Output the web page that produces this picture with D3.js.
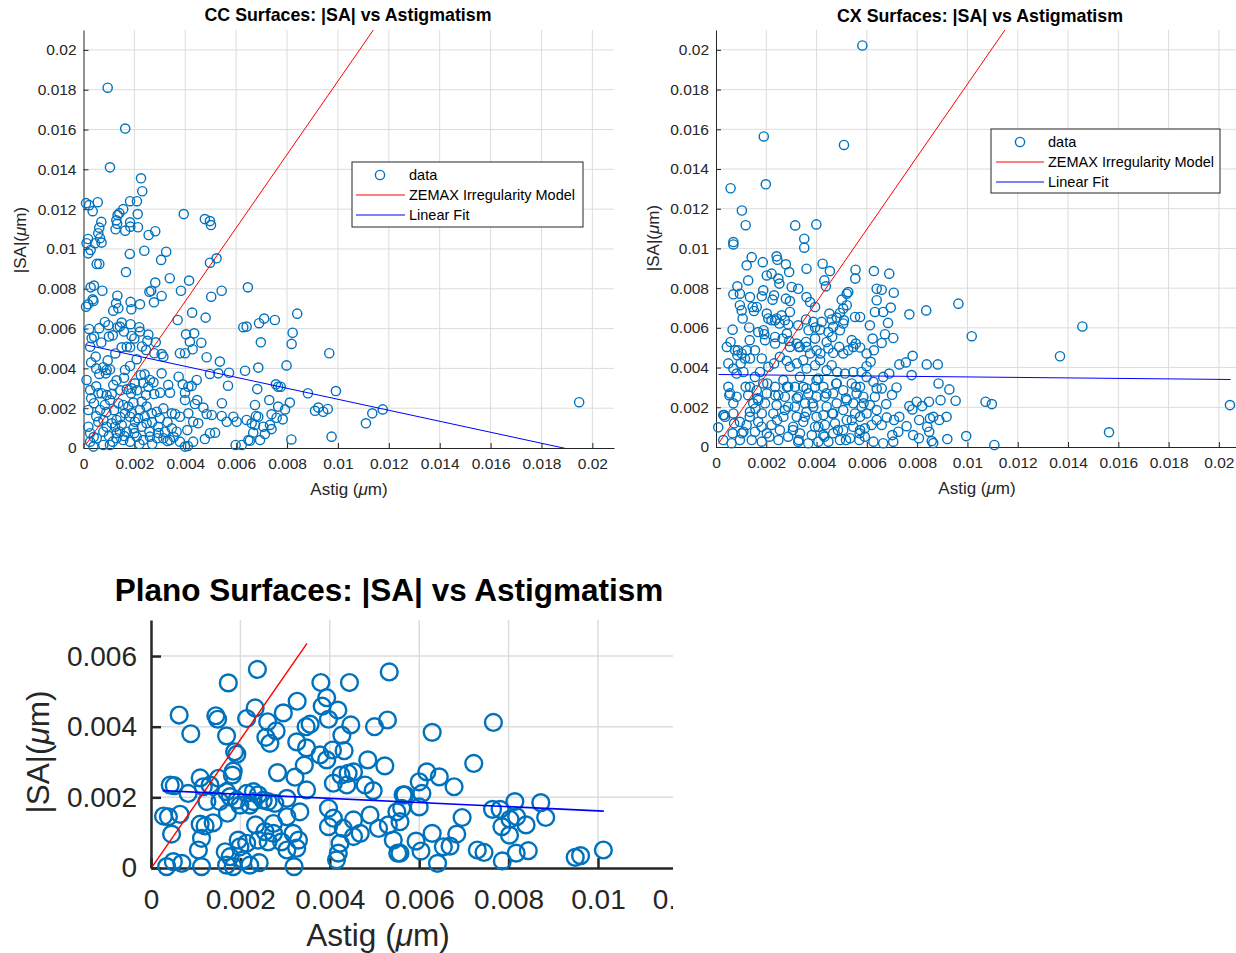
<!DOCTYPE html>
<html>
<head>
<meta charset="utf-8">
<script src="https://cdn.jsdelivr.net/npm/d3@7"></script>
<style>
  body { margin: 0; background: #fff; }
  svg { display: block; }
  text { font-family: "Liberation Sans", Arial, Helvetica, sans-serif; fill: #262626; }
</style>
</head>
<body>
<svg id="chart" width="1236" height="953"></svg>
<script>
// all values are in units of 1e-3 um: [astig, |SA|]
const ccPoints = [
  [0.95,18.1],[1.64,16.05],[1.04,14.1],[2.26,13.55],[2.31,12.9],[0.1,12.3],[0.22,12.2],[0.56,12.35],[0.36,11.9],[1.83,12.4],
  [2.1,12.4],[1.56,12.0],[1.41,11.8],[1.34,11.7],[2.13,11.75],[3.94,11.75],[0.7,11.36],[1.29,11.44],[1.32,11.26],[1.83,11.34],
  [0.62,11.07],[1.26,10.99],[1.64,10.92],[1.84,11.12],[2.14,11.09],[2.56,10.7],[2.82,10.89],[4.77,11.5],[4.97,11.4],[5.01,11.2],
  [0.18,10.5],[0.65,10.54],[0.58,10.79],[0.12,10.29],[0.45,10.29],[0.71,10.32],[0.28,9.95],[0.19,9.78],[1.82,9.75],[2.39,9.91],
  [3.25,9.86],[3.05,9.45],[0.52,9.25],[0.62,9.25],[1.67,8.84],[4.97,9.31],[5.23,9.53],[3.39,8.53],[4.15,8.41],[2.82,8.31],
  [2.59,7.85],[2.66,7.9],[3.07,7.64],[2.77,7.32],[3.83,7.9],[5.43,7.9],[5.02,7.6],[6.46,8.07],[0.41,8.16],[0.28,8.07],
  [0.74,7.9],[0.1,7.1],[0.39,7.39],[0.36,7.47],[0.18,7.22],[1.33,7.65],[1.28,7.27],[1.17,6.9],[1.85,7.34],[1.88,6.97],
  [2.22,7.22],[1.37,7.02],[0.22,5.98],[0.32,5.51],[0.42,5.59],[0.26,5.09],[0.48,4.59],[0.62,6.02],[0.84,6.33],[0.98,6.17],
  [1.15,5.66],[1.34,6.07],[1.5,6.3],[1.43,6.1],[1.59,5.85],[1.85,6.22],[1.89,5.63],[2.19,6.07],[2.22,5.85],[2.51,5.38],
  [2.84,5.31],[1.5,5.06],[1.7,5.09],[1.83,5.06],[2.46,4.92],[2.78,4.76],[3.07,4.72],[3.14,4.59],[2.09,4.46],[3.7,6.43],
  [4.03,5.71],[4.35,5.76],[4.27,6.8],[4.63,5.29],[4.18,5.34],[4.29,4.96],[3.79,4.76],[3.99,4.76],[4.8,6.55],[4.84,4.56],
  [5.36,4.34],[4.97,3.72],[5.3,3.75],[5.72,3.78],[6.35,3.88],[6.41,6.1],[6.28,6.07],[5.68,3.13],[5.44,2.25],[0.12,3.42],
  [0.26,2.91],[0.41,2.25],[0.62,3.72],[0.78,4.06],[0.91,3.92],[1.04,3.95],[0.88,3.75],[0.58,2.75],[0.71,2.75],[0.91,2.66],
  [1.11,2.71],[1.17,3.17],[1.59,3.53],[1.63,3.92],[1.83,4.12],[1.7,2.95],[1.89,3.0],[1.87,2.75],[2.02,3.25],[2.25,3.67],
  [2.35,3.28],[2.61,3.42],[2.55,3.08],[2.46,2.66],[2.78,2.71],[3.01,2.78],[3.07,3.75],[3.33,3.17],[3.4,2.78],[3.74,3.58],
  [3.9,3.2],[4.12,3.08],[3.99,2.78],[4.25,3.12],[4.45,3.42],[3.99,2.41],[4.38,2.21],[4.47,2.41],[4.71,2.03],[4.84,1.71],
  [5.04,1.66],[0.19,1.91],[0.65,1.91],[0.84,2.16],[1.04,2.41],[1.37,2.25],[1.56,2.16],[1.76,2.08],[1.63,1.74],[1.96,2.28],
  [2.29,2.33],[2.22,1.91],[2.48,2.08],[2.68,1.74],[2.88,1.82],[3.14,1.99],[3.47,1.74],[3.6,1.71],[3.79,1.57],[4.12,1.74],
  [4.31,1.32],[4.51,1.24],[4.97,0.74],[5.17,0.77],[4.77,0.45],[5.43,1.61],[5.63,1.32],[5.89,1.57],[6.02,1.32],[6.41,1.41],
  [6.48,0.4],[5.98,0.15],[6.22,0.15],[3.79,0.32],[3.99,0.07],[4.1,0.1],[4.31,0.32],[3.4,0.4],[3.14,0.49],[3.3,0.35],
  [2.9,0.49],[2.61,0.57],[2.35,0.4],[2.09,0.57],[1.83,0.32],[1.56,0.4],[1.3,0.49],[1.15,0.32],[1.04,0.15],[0.78,0.15],
  [0.39,0.07],[0.26,0.32],[0.52,0.49],[1.43,0.82],[1.7,0.82],[0.91,1.07],[1.11,1.24],[1.24,1.07],[1.5,1.16],[1.96,0.99],
  [2.29,1.07],[2.48,1.24],[2.59,0.82],[2.94,1.07],[3.2,0.82],[3.47,0.99],[3.66,0.82],[4.08,0.9],[0.19,1.07],[0.26,0.74],
  [0.78,0.82],[0.58,1.32],[0.78,1.41],[1.3,1.41],[1.83,1.57],[2.02,1.32],[8.4,6.75],[7.1,6.5],[6.9,6.27],[7.52,6.43],
  [8.22,5.79],[6.97,5.31],[8.18,5.23],[9.66,4.76],[6.87,4.04],[7.98,4.15],[6.83,2.96],[7.56,3.2],[7.65,3.08],[7.75,3.08],
  [8.82,2.75],[9.92,2.86],[7.3,2.41],[6.74,2.16],[7.65,2.08],[8.11,2.28],[7.92,1.94],[6.78,1.61],[6.87,1.57],[7.39,1.69],
  [7.59,1.52],[7.83,1.44],[6.61,1.24],[6.74,1.16],[7.07,1.07],[7.33,1.16],[7.39,0.95],[7.13,0.7],[6.67,0.77],[6.54,0.37],
  [6.94,0.4],[8.17,0.43],[9.75,0.57],[9.1,1.87],[9.23,2.03],[9.42,1.82],[9.6,1.96],[11.1,1.24],[11.35,1.74],[11.76,1.94],
  [19.48,2.3],
  [0.5,1.6],[0.9,1.8],[1.2,1.9],[1.45,1.55],[1.9,1.75],[2.15,1.5],[2.4,1.6],[2.7,1.3],[3.0,1.5],[3.3,1.3],
  [1.0,0.6],[1.3,0.75],[1.6,0.6],[2.0,0.75],[2.2,0.2],[2.7,0.2],[2.95,0.75],[3.55,0.55],[0.4,0.55],[0.3,2.5],
  [0.5,3.1],[1.3,3.4],[1.45,2.9],[2.1,2.9],[2.4,3.7],[2.75,3.3],[0.3,4.3],[0.5,4.0],[0.95,4.4],[1.25,4.75],
  [0.7,5.3],[1.0,5.6],[2.0,5.5],[2.3,5.1],[2.55,5.7]
];
const cxPoints = [
  [5.82,20.22],[1.9,15.64],[5.09,15.21],[0.58,13.03],[1.98,13.23],[1.03,11.91],[1.18,11.17],[3.15,11.16],[3.99,11.21],[3.51,10.49],
  [0.69,10.32],[0.69,10.2],[3.51,10.04],[1.22,9.15],[1.42,9.56],[1.86,9.31],[2.41,9.6],[2.44,9.43],[2.78,9.2],[2.91,8.81],
  [3.6,8.98],[4.24,9.23],[4.53,8.86],[5.55,8.93],[5.54,8.48],[6.28,8.86],[2.02,8.64],[2.21,8.73],[2.48,8.48],[2.52,8.23],
  [1.28,8.39],[0.85,8.09],[0.69,7.69],[0.95,7.72],[1.35,7.55],[1.88,7.89],[1.82,7.59],[2.31,7.64],[2.25,7.42],[2.78,7.47],
  [2.94,7.35],[3.01,8.06],[3.27,7.97],[4.31,8.39],[4.37,8.09],[3.6,7.55],[3.74,7.3],[3.94,7.05],[0.95,7.14],[1.02,6.88],
  [1.06,6.47],[1.46,7.05],[1.51,6.85],[1.62,7.05],[2.02,6.72],[2.08,6.47],[2.21,6.38],[2.41,6.47],[2.61,6.63],[2.74,6.38],
  [2.94,6.8],[2.87,6.17],[2.52,6.22],[3.27,6.13],[3.58,6.42],[3.87,6.3],[3.94,6.02],[4.2,6.3],[4.51,6.72],[4.6,6.42],
  [4.8,6.52],[4.93,6.75],[5.06,6.97],[5.2,7.72],[5.26,7.8],[5.0,7.42],[5.2,7.14],[5.53,6.55],[5.73,6.55],[6.12,6.13],
  [6.32,6.8],[6.39,7.39],[6.39,7.97],[4.14,5.91],[4.47,5.79],[4.66,6.05],[4.93,5.88],[5.06,6.22],[0.66,5.91],[1.32,6.02],
  [1.68,5.79],[1.95,5.38],[1.92,5.68],[2.35,5.21],[2.35,5.54],[2.65,5.46],[2.91,5.34],[2.94,5.04],[3.21,5.21],[3.34,5.04],
  [3.6,5.04],[3.58,5.29],[3.94,5.46],[3.74,4.71],[4.0,4.87],[4.4,5.29],[4.47,4.96],[4.66,4.74],[4.9,5.04],[5.06,4.71],
  [5.26,4.87],[5.4,5.38],[5.46,5.04],[5.73,5.01],[5.99,4.71],[6.23,5.46],[6.28,4.87],[0.43,5.04],[0.58,5.29],[0.76,4.87],
  [0.85,4.62],[1.02,4.71],[1.22,4.87],[1.35,4.46],[1.15,4.46],[0.49,4.21],[0.69,3.95],[0.98,4.21],[1.55,4.87],[1.82,4.46],
  [2.08,4.04],[2.31,4.21],[2.54,4.54],[2.81,4.34],[2.94,4.04],[3.21,4.21],[3.47,4.37],[3.6,3.95],[3.94,4.12],[4.14,4.37],
  [4.4,3.87],[4.6,4.12],[4.82,3.78],[5.13,3.7],[5.46,3.78],[5.79,3.78],[5.99,4.07],[6.15,4.29],[5.99,3.53],[6.26,3.28],
  [6.39,2.95],[6.32,2.53],[6.12,2.11],[5.99,1.69],[6.39,1.86],[6.39,1.36],[6.19,1.11],[5.92,0.94],[5.73,0.85],[5.92,0.52],
  [5.7,0.35],[6.26,0.27],[0.49,3.03],[0.53,2.61],[0.36,1.52],[0.09,0.99],[0.29,1.61],[0.69,2.2],[0.82,2.53],[0.69,1.69],
  [0.95,1.27],[0.66,0.69],[0.29,0.35],[0.62,0.19],[0.95,0.35],[1.09,0.77],[1.22,1.11],[1.35,1.77],[1.48,2.2],[1.35,3.03],
  [1.28,2.61],[1.62,2.86],[1.68,2.36],[1.55,3.53],[1.75,3.78],[1.88,3.2],[2.02,2.7],[1.95,2.2],[1.82,1.69],[1.68,1.27],
  [1.55,0.77],[1.42,0.35],[1.82,0.27],[2.02,0.69],[2.21,1.11],[2.28,1.69],[2.41,2.11],[2.48,2.61],[2.35,3.03],[2.68,3.37],
  [2.87,3.03],[2.74,2.53],[2.87,2.03],[2.68,1.52],[2.54,0.85],[2.48,0.35],[2.87,0.52],[3.07,1.02],[3.21,1.52],[3.14,2.03],
  [3.27,2.53],[3.14,3.03],[3.34,3.53],[3.47,3.03],[3.67,2.7],[3.54,2.2],[3.6,1.77],[3.47,1.27],[3.34,0.69],[3.27,0.27],
  [3.67,0.19],[3.81,0.6],[3.94,1.02],[4.0,1.52],[3.87,2.03],[4.0,2.53],[3.94,3.03],[4.07,3.45],[4.27,3.03],[4.33,2.53],
  [4.4,2.03],[4.27,1.61],[4.33,1.11],[4.27,0.6],[4.07,0.27],[4.47,0.27],[4.66,0.69],[4.73,1.19],[4.66,1.69],[4.8,2.2],
  [4.66,2.7],[4.8,3.2],[5.06,2.86],[5.2,2.36],[5.06,1.86],[5.2,1.36],[5.06,0.85],[4.93,0.35],[5.33,0.44],[5.46,1.02],
  [5.53,1.69],[5.46,2.2],[5.59,2.7],[5.4,3.2],[5.73,3.03],[5.86,2.53],[5.79,2.03],[5.73,1.52],[0.82,3.7],[1.09,3.78],
  [6.89,8.73],[6.59,7.92],[7.07,7.77],[9.64,7.22],[6.95,7.02],[6.65,6.8],[7.69,6.68],[8.36,6.88],[6.84,6.25],[6.72,5.68],
  [7.05,5.49],[6.59,5.24],[10.17,5.58],[14.57,6.07],[13.68,4.57],[7.82,4.59],[7.55,4.26],[7.29,4.16],[8.38,4.16],[8.82,4.16],
  [6.89,3.7],[6.65,3.53],[7.78,3.62],[8.85,3.2],[9.28,2.9],[7.18,3.0],[7.0,2.63],[6.59,2.95],[8.93,2.36],[9.53,2.33],
  [8.47,2.28],[7.98,2.28],[8.2,2.06],[7.69,2.06],[7.81,1.89],[6.77,2.16],[10.72,2.28],[10.97,2.16],[20.44,2.11],[15.63,0.74],
  [9.95,0.55],[11.07,0.1],[9.2,0.4],[8.58,0.3],[8.64,0.2],[8.07,0.44],[7.84,0.6],[7.25,0.77],[7.01,0.6],[7.05,0.27],
  [6.65,0.19],[6.59,1.11],[6.79,1.49],[7.08,1.36],[7.29,1.52],[7.58,1.05],[8.08,1.36],[8.4,1.02],[8.51,1.44],[8.64,1.52],
  [8.88,1.36],[9.17,1.52],[8.48,0.77],
  [0.32,1.61],[0.72,1.19],[1.03,0.69],[1.34,1.52],[1.57,1.94],[1.81,1.02],[2.12,0.52],[2.43,1.36],[2.74,1.86],[3.06,0.85],
  [3.29,0.35],[3.53,1.52],[3.84,2.2],[4.07,1.02],[4.31,0.52],[4.62,1.69],[4.85,0.85],[5.17,0.35],[5.4,1.36],[5.71,0.69],
  [0.56,2.7],[1.18,3.03],[1.65,2.45],[2.04,3.2],[2.35,2.61],[2.82,3.03],[3.21,2.45],[3.6,2.95],[4.0,3.37],[4.39,2.7],
  [4.78,3.2],[5.17,2.45],[5.56,3.03],[5.87,2.2],[0.87,4.87],[1.34,5.38],[1.89,5.88],[2.35,6.38],[2.82,5.71],[3.29,5.04],
  [3.68,5.88],[4.15,4.71],[4.62,5.54],[5.09,6.38],[5.56,5.21]
];
const planoPoints = [
  [2.38,5.62],[1.73,5.24],[0.63,4.33],[1.45,4.31],[1.49,4.21],[0.89,3.8],[1.69,3.74],[2.33,4.53],[2.14,4.23],[2.61,4.14],
  [2.8,3.88],[2.57,3.7],[2.66,3.53],[2.96,4.39],[3.27,4.72],[3.8,5.25],[4.44,5.25],[5.33,5.55],[3.83,4.58],[3.93,4.82],
  [4.18,4.47],[3.97,4.21],[3.47,4.0],[3.56,4.07],[4.47,4.05],[5.0,4.0],[5.29,4.19],[4.27,3.76],[3.26,3.57],[3.48,3.4],
  [3.78,3.2],[3.93,3.06],[4.06,3.34],[4.32,3.32],[1.87,3.29],[1.92,3.22],[1.84,2.74],[1.82,2.63],[2.83,2.7],[3.22,2.57],
  [3.43,2.91],[3.48,2.21],[3.04,1.97],[4.85,3.06],[5.23,2.89],[4.08,2.4],[4.25,2.63],[4.41,2.68],[4.38,2.35],[4.53,2.72],
  [4.79,2.35],[4.97,2.19],[5.64,2.07],[0.43,2.35],[0.52,2.33],[1.1,2.55],[0.83,2.11],[1.17,2.3],[1.32,2.35],[1.51,2.54],
  [1.54,1.88],[1.25,1.88],[1.69,2.16],[1.77,2.02],[1.92,1.92],[1.99,1.78],[2.14,2.11],[2.29,2.16],[2.4,2.07],[2.51,1.92],
  [2.62,1.88],[2.77,1.83],[2.29,1.88],[2.21,1.78],[1.71,1.55],[0.28,1.47],[0.39,1.45],[0.65,1.52],[1.1,1.24],[1.21,1.19],
  [1.39,1.28],[0.46,0.96],[1.13,0.84],[1.06,0.51],[1.66,0.46],[1.77,0.32],[1.95,0.79],[1.99,0.6],[2.06,0.23],[1.69,0.08],
  [1.84,0.04],[2.21,0.08],[2.42,0.15],[2.34,1.22],[2.55,1.03],[2.4,0.79],[2.14,0.7],[2.62,0.74],[2.74,0.98],[2.92,0.74],
  [3.04,0.51],[3.18,0.98],[3.3,0.79],[3.26,0.56],[3.2,0.04],[3.04,1.45],[2.74,1.26],[0.5,0.18],[0.35,0.04],[0.69,0.13],
  [1.13,0.04],[3.33,1.59],[3.97,1.69],[4.08,1.41],[3.97,1.17],[4.3,1.12],[4.53,1.36],[4.68,0.98],[4.53,0.89],[4.9,1.5],
  [5.09,1.12],[5.31,1.22],[5.42,0.79],[5.52,0.42],[4.23,0.7],[4.19,0.42],[4.15,0.23],[5.5,1.59],[6.29,3.84],[7.66,4.12],
  [7.22,2.96],[6.17,2.72],[6.45,2.58],[6.0,2.44],[6.78,2.3],[6.06,2.11],[5.68,2.07],[6.0,1.73],[5.61,1.69],[5.57,1.31],
  [6.96,1.43],[6.29,0.98],[5.93,0.76],[6.04,0.48],[5.57,0.42],[6.54,0.6],[6.69,0.62],[6.84,0.96],[6.41,0.13],[7.3,0.51],
  [7.45,0.44],[7.86,0.2],[8.17,0.42],[8.44,0.49],[7.64,1.66],[7.81,1.66],[8.14,1.88],[8.18,1.45],[8.03,1.38],[7.85,1.17],
  [8.02,0.93],[8.39,1.22],[8.72,1.85],[8.83,1.43],[9.49,0.3],[9.61,0.35],[10.12,0.51]
];

// model and fit lines, endpoints in the same units
const ccZemax = [[0.1, 0.18], [11.5, 21.2]];
const ccFit = [[0.1, 5.18], [19.48, -0.17]];
const cxZemax = [[0.1, 0.18], [11.6, 21.2]];
const cxFit = [[0.1, 3.65], [20.47, 3.40]];
const planoZemax = [[0.03, 0.04], [3.49, 6.36]];
const planoFit = [[0.26, 2.19], [10.13, 1.61]];

const bigTicks = [0, 2, 4, 6, 8, 10, 12, 14, 16, 18, 20];
const bigTickLabels = ['0', '0.002', '0.004', '0.006', '0.008', '0.01', '0.012', '0.014', '0.016', '0.018', '0.02'];
const planoXTicks = [0, 2, 4, 6, 8, 10, 12];
const planoXTickLabels = ['0', '0.002', '0.004', '0.006', '0.008', '0.01', '0.012'];
const planoYTicks = [0, 2, 4, 6];
const planoYTickLabels = ['0', '0.002', '0.004', '0.006'];
const legendLabels = ['data', 'ZEMAX Irregularity Model', 'Linear Fit'];

const svg = d3.select('#chart');
const defs = svg.append('defs');
const markerColor = '#0072BD';

function drawPanel(o) {
  const g = svg.append('g');
  if (o.cropRight) {
    defs.append('clipPath').attr('id', o.id + '-crop')
      .append('rect').attr('x', 0).attr('y', 0).attr('width', o.cropRight).attr('height', 953);
    g.attr('clip-path', `url(#${o.id}-crop)`);
  }

  const x = d3.scaleLinear().domain([0, o.xMax]).range([o.left, o.right]);
  const y = d3.scaleLinear().domain([0, o.yMax]).range([o.bottom, o.top]);

  // grid
  g.append('g').selectAll('line').data(o.xTicks.filter(d => d > 0)).join('line')
    .attr('x1', d => x(d)).attr('x2', d => x(d)).attr('y1', o.top).attr('y2', o.bottom)
    .attr('stroke', '#dcdcdc').attr('stroke-width', o.gridW);
  g.append('g').selectAll('line').data(o.yTicks.filter(d => d > 0)).join('line')
    .attr('x1', o.left).attr('x2', o.right).attr('y1', d => y(d)).attr('y2', d => y(d))
    .attr('stroke', '#dcdcdc').attr('stroke-width', o.gridW);

  // axes, ticks point inward
  const xAxis = d3.axisBottom(x).tickValues(o.xTicks).tickFormat((d, i) => o.xLabels[i])
    .tickSizeInner(-o.tickLen).tickSizeOuter(0).tickPadding(o.xPad);
  const yAxis = d3.axisLeft(y).tickValues(o.yTicks).tickFormat((d, i) => o.yLabels[i])
    .tickSizeInner(-o.tickLen).tickSizeOuter(0).tickPadding(o.yPad);

  const gx = g.append('g').attr('transform', `translate(0,${o.bottom})`).call(xAxis);
  const gy = g.append('g').attr('transform', `translate(${o.left},0)`).call(yAxis);
  [gx, gy].forEach(a => {
    a.select('.domain').attr('stroke', '#262626').attr('stroke-width', o.axisW);
    a.selectAll('.tick line').attr('stroke', '#262626').attr('stroke-width', o.axisW);
    a.selectAll('.tick text').attr('font-size', o.tickFont).attr('fill', '#262626')
      .style('font-family', '"Liberation Sans", Arial, sans-serif');
  });

  // data
  g.append('g').selectAll('circle').data(o.points).join('circle')
    .attr('cx', d => x(d[0])).attr('cy', d => y(d[1])).attr('r', o.r)
    .attr('fill', 'none').attr('stroke', markerColor).attr('stroke-width', o.sw);

  defs.append('clipPath').attr('id', o.id + '-plot')
    .append('rect').attr('x', o.left).attr('y', o.top)
    .attr('width', o.right - o.left).attr('height', o.bottom - o.top);
  const lines = g.append('g').attr('clip-path', `url(#${o.id}-plot)`);
  const line = d3.line().x(d => x(d[0])).y(d => y(d[1]));
  lines.append('path').attr('d', line(o.zemax)).attr('fill', 'none')
    .attr('stroke', '#ff0000').attr('stroke-width', o.lineW);
  lines.append('path').attr('d', line(o.fit)).attr('fill', 'none')
    .attr('stroke', '#0000ff').attr('stroke-width', o.fitW);

  // title and labels
  g.append('text').attr('x', o.titleX).attr('y', o.titleY).attr('text-anchor', 'middle')
    .attr('dy', '0.35em').attr('font-size', o.titleFont).attr('font-weight', 'bold')
    .style('fill', '#000').text(o.title);

  const xl = g.append('text').attr('x', o.xLabelX).attr('y', o.xLabelY).attr('dy', '0.35em')
    .attr('text-anchor', 'middle').attr('font-size', o.labelFont);
  xl.append('tspan').text('Astig (');
  xl.append('tspan').attr('font-style', 'italic').text('\u03bc');
  xl.append('tspan').text('m)');

  const yl = g.append('text').attr('transform', `translate(${o.yLabelX},${o.yLabelY}) rotate(-90)`)
    .attr('dy', '0.35em').attr('text-anchor', 'middle').attr('font-size', o.labelFont);
  yl.append('tspan').text('|SA|(');
  yl.append('tspan').attr('font-style', 'italic').text('\u03bc');
  yl.append('tspan').text('m)');

  // legend
  if (o.legend) {
    const L = o.legend;
    const lg = g.append('g');
    lg.append('rect').attr('x', L.x).attr('y', L.y).attr('width', L.w).attr('height', L.h)
      .attr('fill', '#fff').attr('stroke', '#262626').attr('stroke-width', 1);
    legendLabels.forEach((lab, i) => {
      const cy = L.y + L.row0 + i * L.rowH;
      if (i === 0) {
        lg.append('circle').attr('cx', L.x + L.markX).attr('cy', cy).attr('r', o.r)
          .attr('fill', 'none').attr('stroke', markerColor).attr('stroke-width', o.sw);
      } else {
        lg.append('line').attr('x1', L.x + L.lineX0).attr('x2', L.x + L.lineX1)
          .attr('y1', cy).attr('y2', cy).attr('stroke', i === 1 ? '#ff0000' : '#0000ff').attr('stroke-width', 1);
      }
      lg.append('text').attr('x', L.x + L.textX).attr('y', cy).attr('dy', '0.35em')
        .attr('font-size', L.font).style('fill', '#000').text(lab);
    });
  }
}

drawPanel({
  id: 'cc', points: ccPoints, zemax: ccZemax, fit: ccFit,
  left: 83.5, right: 614, top: 30, bottom: 448, xMax: 20.85, yMax: 21,
  xTicks: bigTicks, xLabels: bigTickLabels, yTicks: bigTicks, yLabels: bigTickLabels,
  tickLen: 5, xPad: 10, yPad: 7, axisW: 1, gridW: 1, tickFont: 15.5,
  r: 4.6, sw: 1.4, lineW: 1, fitW: 1,
  title: 'CC Surfaces: |SA| vs Astigmatism', titleX: 348, titleY: 15, titleFont: 17.8,
  xLabelX: 349, xLabelY: 489, yLabelX: 20, yLabelY: 240, labelFont: 17,
  legend: { x: 352, y: 162, w: 231, h: 65, row0: 13, rowH: 20, markX: 28, lineX0: 4, lineX1: 53, textX: 57, font: 14.5 }
});

drawPanel({
  id: 'cx', points: cxPoints, zemax: cxZemax, fit: cxFit,
  left: 716, right: 1236, top: 30, bottom: 447, xMax: 20.68, yMax: 21,
  xTicks: bigTicks, xLabels: bigTickLabels, yTicks: bigTicks, yLabels: bigTickLabels,
  tickLen: 5, xPad: 10, yPad: 7, axisW: 1, gridW: 1, tickFont: 15.5,
  r: 4.6, sw: 1.4, lineW: 1, fitW: 1,
  title: 'CX Surfaces: |SA| vs Astigmatism', titleX: 980, titleY: 16, titleFont: 17.8,
  xLabelX: 977, xLabelY: 488, yLabelX: 653, yLabelY: 238, labelFont: 17,
  legend: { x: 991, y: 129, w: 229, h: 64, row0: 13, rowH: 20, markX: 29, lineX0: 5, lineX1: 53, textX: 57, font: 14.5 }
});

drawPanel({
  id: 'plano', points: planoPoints, zemax: planoZemax, fit: planoFit,
  left: 151, right: 151 + 44.7 * 12.5, top: 620, bottom: 868, xMax: 12.5, yMax: 7.02,
  xTicks: planoXTicks, xLabels: planoXTickLabels, yTicks: planoYTicks, yLabels: planoYTickLabels,
  tickLen: 10, xPad: 21, yPad: 14, axisW: 2.5, gridW: 1.5, tickFont: 28,
  r: 8.4, sw: 2.4, lineW: 1.4, fitW: 1.6,
  title: 'Plano Surfaces: |SA| vs Astigmatism', titleX: 389, titleY: 590, titleFont: 31.5,
  xLabelX: 378, xLabelY: 935, yLabelX: 38, yLabelY: 752, labelFont: 31.5,
  cropRight: 673
});
</script>
</body>
</html>
